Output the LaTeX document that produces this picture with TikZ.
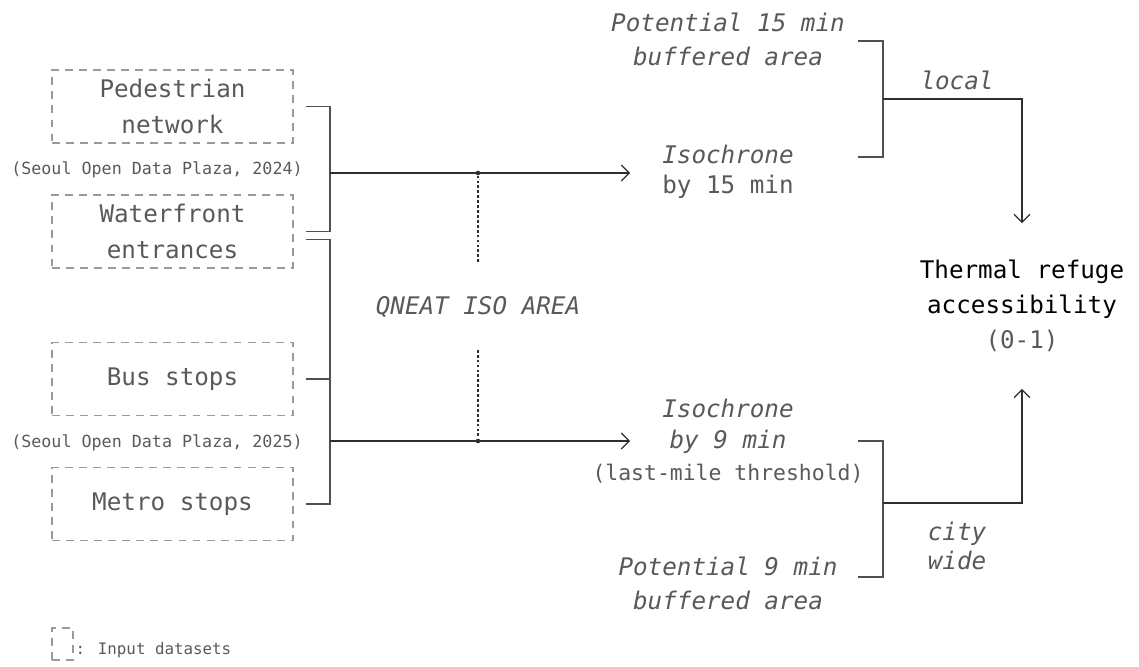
\documentclass[tikz,border=0pt]{standalone}
\usepackage{fontspec}
\setmainfont{DejaVu Sans Mono}
\usetikzlibrary{arrows.meta, positioning, calc}
\definecolor{txtgray}{HTML}{595959}
\definecolor{linegray}{HTML}{2E2E2E}
\definecolor{brkgray}{HTML}{505050}
\definecolor{boxgray}{HTML}{9A9A9A}

\begin{document}
\begin{tikzpicture}[
		x=0.02cm, y=-0.02cm,
		font=\fontsize{13.8}{20.4}\selectfont,
		text=txtgray,
		arrow/.style={-{Straight Barb[length=4.5pt, width=9pt]}, draw=linegray, line width=0.7pt},
		brk/.style={draw=brkgray, line width=0.7pt},
		src/.style={rectangle, draw=boxgray, line width=0.7pt, dash pattern=on 4.5pt off 3.5pt, minimum width=4.82cm, minimum height=1.46cm, align=center},
		cite/.style={font=\fontsize{9.5}{11}\selectfont},
		lbl/.style={align=center},
		dot/.style={circle, fill=linegray, inner sep=0pt, minimum size=2.6pt},
		link/.style={draw=linegray, line width=0.6pt, dash pattern=on 1.6pt off 1.2pt}
		]
		\useasboundingbox (0,0) rectangle (1139,666);
		
		% 1. Input datasets
		\node[src] (ped) at (172.5,106.5) {Pedestrian\\network};
		\node[cite] (cite1) at (157,170) {(Seoul Open Data Plaza, 2024)};
		\node[src] (water) at (172.5,231.5) {Waterfront\\entrances};
		\node[src] (bus) at (172.5,379) {Bus stops};
		\node[cite] (cite2) at (157,443) {(Seoul Open Data Plaza, 2025)};
		\node[src] (metro) at (172.5,504) {Metro stops};
		
		% 2. Brackets joining the inputs
		\coordinate (j1) at (330,173);
		\coordinate (j2) at (330,441);
		\draw[brk] ([xshift=0.24cm]ped.east) -| (j1) |- ([xshift=0.24cm]water.east);
		\draw[brk] ([xshift=0.24cm, yshift=-0.16cm]water.east) -| (j2) |- ([xshift=0.24cm]metro.east);
		\draw[brk] ([xshift=0.24cm]bus.east) -- (bus.east -| j2);
		
		% 3. QNEAT iso area
		\node[lbl, font=\itshape\fontsize{13.8}{20.4}\selectfont, minimum height=1.7cm] (qneat) at (478,307) {QNEAT ISO AREA};
		\node[dot] (d1) at (478,173) {};
		\node[dot] (d2) at (478,441) {};
		\draw[link] (d1) -- (qneat.north);
		\draw[link] (qneat.south) -- (d2);
		
		% 4. Isochrones and buffered areas
		\node[lbl, font=\fontsize{13.8}{17.2}\selectfont] (iso15) at (728,172) {\textit{Isochrone}\\by 15 min};
		\node[lbl, font=\itshape\fontsize{13.8}{19.3}\selectfont] (pot15) at (728,39) {Potential 15 min\\buffered area};
		\node[lbl, font=\fontsize{13.8}{18}\selectfont] (iso9) at (728,441) {\textit{Isochrone}\\\textit{by 9 min}\\{\fontsize{12.2}{18}\selectfont(last-mile threshold)}};
		\node[lbl, font=\itshape\fontsize{13.8}{19.3}\selectfont] (pot9) at (728,583) {Potential 9 min\\buffered area};
		
		\coordinate (in15) at (630,173);
		\coordinate (in9) at (630,441);
		\draw[arrow] (j1) -- (in15);
		\draw[arrow] (j2) -- (in9);
		
		% 5. Output
		\node[lbl, font=\fontsize{13.8}{19.8}\selectfont] (out) at (1022,306) {\textcolor{black}{Thermal refuge}\\\textcolor{black}{accessibility}\\(0-1)};
		
		\coordinate (t15) at (858,41);
		\coordinate (u15) at (858,157);
		\coordinate (t9) at (858,441);
		\coordinate (u9) at (858,577);
		\coordinate (b15) at (883,99);
		\coordinate (b9) at (883,503);
		\draw[brk] (t15) -| (b15) |- (u15);
		\draw[brk] (t9) -| (b9) |- (u9);
		\draw[arrow, shorten >=0.62cm] (b15) -| (out.north);
		\draw[arrow, shorten >=0.62cm] (b9) -| (out.south);
		\node[lbl, font=\itshape\fontsize{13.8}{20.4}\selectfont] (local) at (957,80) {local};
		\node[lbl, font=\itshape\fontsize{13.8}{16}\selectfont] (city) at (957,546) {city\\wide};
		
		% 6. Legend
		\node[src, minimum width=0.42cm, minimum height=0.64cm] (leg) at (62.5,644) {};
		\node[cite, font=\fontsize{9}{11}\selectfont, right=1pt of leg, yshift=-0.12cm, inner sep=0pt] (legtxt) {: Input datasets};
	\end{tikzpicture}
\end{document}
